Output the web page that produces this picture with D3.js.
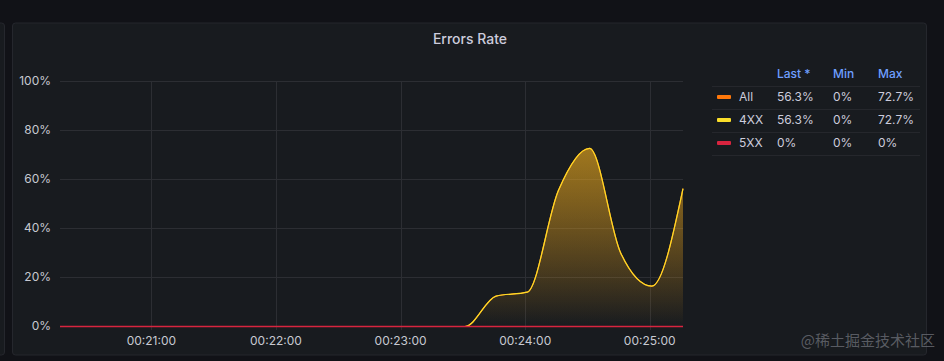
<!DOCTYPE html>
<html><head><meta charset="utf-8">
<script src="https://cdn.jsdelivr.net/npm/d3@7"></script>
<style>
html,body{margin:0;padding:0;background:#111217;}
svg{display:block;font-family:Inter,"Noto Sans",sans-serif;}
</style></head>
<body>
<svg id="c" width="944" height="361"></svg>
<script>
const times = ["00:20:16","00:20:31","00:20:46","00:21:01","00:21:16","00:21:31","00:21:46",
  "00:22:01","00:22:16","00:22:31","00:22:46","00:23:01","00:23:16","00:23:31",
  "00:23:46","00:24:01","00:24:16","00:24:31","00:24:46","00:25:01","00:25:16"];
const allValues = [0,0,0,0,0,0,0,0,0,0,0,0,0,0,12.4,14,55.5,72.7,30,16.5,56.3];
const xx4Values = [0,0,0,0,0,0,0,0,0,0,0,0,0,0,12.4,14,55.5,72.7,30,16.5,56.3];
const xx5Values = [0,0,0,0,0,0,0,0,0,0,0,0,0,0,0,0,0,0,0,0,0];
const seriesNames = ["All","4XX","5XX"];
const seriesColors = ["#ff780a","#fade2a","#d8243f"];
const legendHeaders = ["Last *","Min","Max"];
const legendLast = ["56.3%","56.3%","0%"];
const legendMin = ["0%","0%","0%"];
const legendMax = ["72.7%","72.7%","0%"];
const yTicks = [0,20,40,60,80,100];
const title = "Errors Rate";

const svg = d3.select("#c");
const parse = d3.timeParse("%Y-%m-%d %H:%M:%S");
const dates = times.map(t => parse("2024-01-01 " + t));

// panels
svg.append("rect").attr("x",-10).attr("y",23).attr("width",14.5).attr("height",332).attr("rx",3)
  .attr("fill","#181b1f").attr("stroke","#25272d");
svg.append("rect").attr("x",12.5).attr("y",23).attr("width",914).attr("height",332).attr("rx",3)
  .attr("fill","#181b1f").attr("stroke","#25272d");

svg.append("text").attr("x",470).attr("y",44).attr("text-anchor","middle")
  .attr("fill","#ccccdc").attr("font-size",14).attr("font-weight",500).text(title);

const x = d3.scaleTime().domain([dates[0], dates[dates.length-1]]).range([60,683]);
const y = d3.scaleLinear().domain([0,100]).range([326,81]);

const grid = svg.append("g");
grid.selectAll("line.h").data(yTicks).join("line")
  .attr("x1",60).attr("x2",683).attr("y1",d=>Math.round(y(d))+0.5).attr("y2",d=>Math.round(y(d))+0.5)
  .attr("stroke","#2c2e33");
const xTicks = x.ticks(d3.timeMinute.every(1));
grid.selectAll("line.v").data(xTicks).join("line")
  .attr("x1",d=>Math.round(x(d))+0.5).attr("x2",d=>Math.round(x(d))+0.5).attr("y1",81).attr("y2",330)
  .attr("stroke","#2c2e33");

// y labels
svg.append("g").selectAll("text").data(yTicks).join("text")
  .attr("x",51).attr("y",d=>y(d)).attr("dy","0.35em").attr("text-anchor","end")
  .attr("fill","#c7c9d1").attr("font-size",12).text(d=>d+"%");
// x labels
const fmt = d3.timeFormat("%H:%M:%S");
svg.append("g").selectAll("text").data(xTicks).join("text")
  .attr("x",d=>x(d)).attr("y",341).attr("dy","0.35em").attr("text-anchor","middle")
  .attr("fill","#c7c9d1").attr("font-size",12).text(d=>fmt(d));

// gradients
const defs = svg.append("defs");
seriesColors.forEach((c,i)=>{
  const g = defs.append("linearGradient").attr("id","g"+i).attr("gradientUnits","userSpaceOnUse")
    .attr("x1",0).attr("x2",0).attr("y1",y(100)).attr("y2",y(0));
  g.append("stop").attr("offset",0).attr("stop-color",c).attr("stop-opacity",0.5);
  g.append("stop").attr("offset",1).attr("stop-color",c).attr("stop-opacity",0);
});

const data = [allValues, xx4Values, xx5Values];
const area = d3.area().x((d,i)=>x(dates[i])).y0(y(0)).y1(d=>y(d)).curve(d3.curveMonotoneX);
const line = d3.line().x((d,i)=>x(dates[i])).y(d=>y(d)).curve(d3.curveMonotoneX);
const plot = svg.append("g").attr("transform","translate(0,0.5)");
data.forEach((vals,i)=>{
  plot.append("path").attr("d",area(vals)).attr("fill","url(#g"+i+")");
});
data.forEach((vals,i)=>{
  plot.append("path").attr("d",line(vals)).attr("fill","none")
    .attr("stroke",seriesColors[i]).attr("stroke-width",i===2?1.3:1.2);
});

// legend
const lg = svg.append("g");
const colX = [777,833,878];
lg.selectAll("text.h").data(legendHeaders).join("text")
  .attr("x",(d,i)=>colX[i]).attr("y",74).attr("dy","0.35em")
  .attr("fill","#6e9fff").attr("font-size",12).attr("font-weight",500).text(d=>d);
const rowY = [97,120,143];
[86,109,132,155].forEach(yy=>{
  lg.append("line").attr("x1",712).attr("x2",920).attr("y1",yy+0.5).attr("y2",yy+0.5).attr("stroke","#25272c");
});
seriesNames.forEach((n,i)=>{
  lg.append("rect").attr("x",717).attr("y",rowY[i]-2).attr("width",14).attr("height",4).attr("rx",1)
    .attr("fill",seriesColors[i]);
  lg.append("text").attr("x",739).attr("y",rowY[i]).attr("dy","0.35em").attr("fill","#ccccdc").attr("font-size",12).text(n);
  [legendLast[i],legendMin[i],legendMax[i]].forEach((v,j)=>{
    lg.append("text").attr("x",colX[j]).attr("y",rowY[i]).attr("dy","0.35em").attr("fill","#ccccdc").attr("font-size",12).text(v);
  });
});

// watermark
svg.append("text").attr("x",935).attr("y",341).attr("dy","0.35em").attr("text-anchor","end")
  .attr("fill","#6b6e75").attr("fill-opacity",0.8).attr("font-size",15)
  .attr("font-family","'Noto Sans CJK SC',sans-serif").text("@稀土掘金技术社区");
</script>
</body></html>
